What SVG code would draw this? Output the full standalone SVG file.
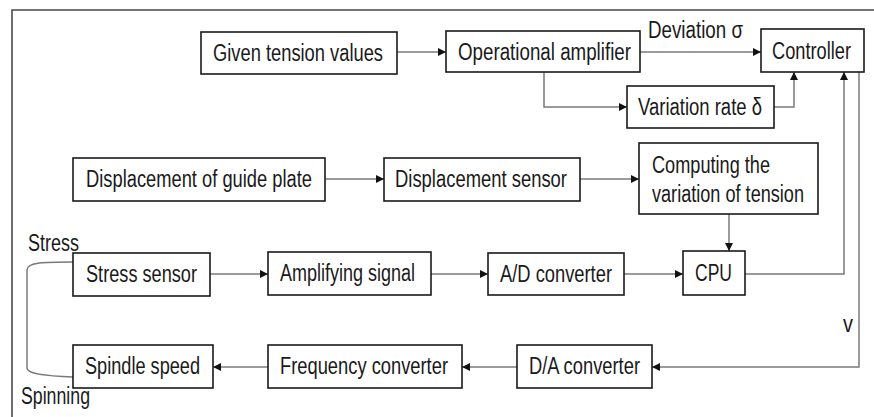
<svg xmlns="http://www.w3.org/2000/svg" width="874" height="417" viewBox="0 0 874 417">
  <style>
    .box { fill: #fff; stroke: #1a1a1a; stroke-width: 1.6; }
    .lbl { font-family: "Liberation Sans", Arial, sans-serif; font-size: 23px; fill: #1a1a1a; }
    .wire { fill: none; stroke: #7a7a7a; stroke-width: 1.5; }
    .frame { fill: none; stroke: #4a4a4a; stroke-width: 1.6; }
  </style>
  <defs>
    <marker id="arrow" viewBox="0 0 10 10" refX="10" refY="5" markerWidth="8" markerHeight="8" markerUnits="userSpaceOnUse" orient="auto">
      <path d="M0,0 L10,5 L0,10 z" fill="#111"/>
    </marker>
  </defs>

  <rect width="874" height="417" fill="#fff"/>
  <path class="frame" d="M12,417 V10 H874"/>

  <!-- connectors -->
  <g id="connectors">
    <path class="wire" d="M397,52 H446" marker-end="url(#arrow)"/>
    <path class="wire" d="M640,52 H761" marker-end="url(#arrow)"/>
    <path class="wire" d="M544,72 V107 H627" marker-end="url(#arrow)"/>
    <path class="wire" d="M774,107 H794 V72" marker-end="url(#arrow)"/>
    <path class="wire" d="M745,274 H844 V72" marker-end="url(#arrow)"/>
    <path class="wire" d="M859,72 V367 H652" marker-end="url(#arrow)"/>
    <path class="wire" d="M325,179 H384" marker-end="url(#arrow)"/>
    <path class="wire" d="M580,179 H639" marker-end="url(#arrow)"/>
    <path class="wire" d="M729,214 V251" marker-end="url(#arrow)"/>
    <path class="wire" d="M210,274 H268" marker-end="url(#arrow)"/>
    <path class="wire" d="M431,274 H488" marker-end="url(#arrow)"/>
    <path class="wire" d="M624,274 H683" marker-end="url(#arrow)"/>
    <path class="wire" d="M517,367 H462" marker-end="url(#arrow)"/>
    <path class="wire" d="M268,367 H213" marker-end="url(#arrow)"/>
    <path class="wire" d="M73,262 C45,262 27,262 27,270 V368 C27,374 45,376 73,377"/>
    <text class="lbl" x="648" y="38" textLength="95" lengthAdjust="spacingAndGlyphs">Deviation σ</text>
    <text class="lbl" x="843" y="332" textLength="10" lengthAdjust="spacingAndGlyphs">v</text>
    <text class="lbl" x="28" y="251" textLength="51" lengthAdjust="spacingAndGlyphs">Stress</text>
    <text class="lbl" x="21" y="404" textLength="69" lengthAdjust="spacingAndGlyphs">Spinning</text>
  </g>

  <g id="given-tension">
    <rect class="box" x="201" y="32" width="196" height="42"/>
    <text class="lbl" x="213" y="61" textLength="170" lengthAdjust="spacingAndGlyphs">Given tension values</text>
  </g>
  <g id="op-amp">
    <rect class="box" x="446" y="31" width="194" height="41"/>
    <text class="lbl" x="458" y="60" textLength="173" lengthAdjust="spacingAndGlyphs">Operational amplifier</text>
  </g>
  <g id="controller">
    <rect class="box" x="761" y="29" width="103" height="43"/>
    <text class="lbl" x="772" y="59" textLength="79" lengthAdjust="spacingAndGlyphs">Controller</text>
  </g>
  <g id="variation-rate">
    <rect class="box" x="627" y="86" width="147" height="42"/>
    <text class="lbl" x="638" y="115" textLength="124" lengthAdjust="spacingAndGlyphs">Variation rate δ</text>
  </g>
  <g id="guide-plate">
    <rect class="box" x="73" y="158" width="252" height="43"/>
    <text class="lbl" x="86" y="187" textLength="226" lengthAdjust="spacingAndGlyphs">Displacement of guide plate</text>
  </g>
  <g id="displacement-sensor">
    <rect class="box" x="384" y="158" width="196" height="43"/>
    <text class="lbl" x="395" y="187" textLength="172" lengthAdjust="spacingAndGlyphs">Displacement sensor</text>
  </g>
  <g id="computing">
    <rect class="box" x="639" y="143" width="179" height="71"/>
    <text class="lbl" x="652" y="173" textLength="118" lengthAdjust="spacingAndGlyphs">Computing the</text>
    <text class="lbl" x="652" y="202" textLength="152" lengthAdjust="spacingAndGlyphs">variation of tension</text>
  </g>
  <g id="stress-sensor">
    <rect class="box" x="73" y="253" width="137" height="43"/>
    <text class="lbl" x="86" y="282" textLength="111" lengthAdjust="spacingAndGlyphs">Stress sensor</text>
  </g>
  <g id="amplifying">
    <rect class="box" x="268" y="252" width="163" height="43"/>
    <text class="lbl" x="280" y="281" textLength="135" lengthAdjust="spacingAndGlyphs">Amplifying signal</text>
  </g>
  <g id="ad-converter">
    <rect class="box" x="488" y="253" width="136" height="42"/>
    <text class="lbl" x="500" y="282" textLength="112" lengthAdjust="spacingAndGlyphs">A/D converter</text>
  </g>
  <g id="cpu">
    <rect class="box" x="683" y="251" width="62" height="44"/>
    <text class="lbl" x="695" y="281" textLength="37" lengthAdjust="spacingAndGlyphs">CPU</text>
  </g>
  <g id="spindle-speed">
    <rect class="box" x="73" y="345" width="140" height="43"/>
    <text class="lbl" x="85" y="374" textLength="115" lengthAdjust="spacingAndGlyphs">Spindle speed</text>
  </g>
  <g id="frequency-converter">
    <rect class="box" x="268" y="345" width="194" height="43"/>
    <text class="lbl" x="280" y="374" textLength="168" lengthAdjust="spacingAndGlyphs">Frequency converter</text>
  </g>
  <g id="da-converter">
    <rect class="box" x="517" y="345" width="135" height="43"/>
    <text class="lbl" x="529" y="374" textLength="111" lengthAdjust="spacingAndGlyphs">D/A converter</text>
  </g>
</svg>
